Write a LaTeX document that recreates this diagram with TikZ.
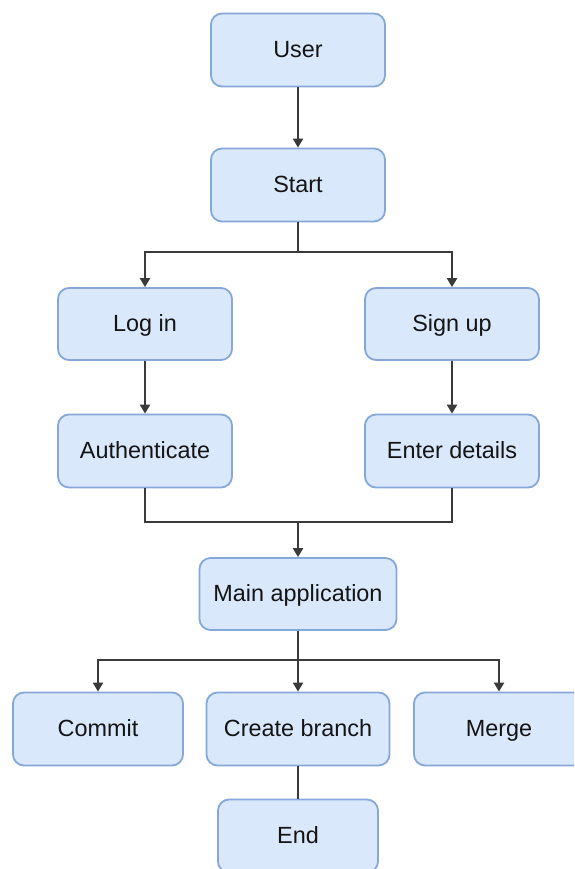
\documentclass[tikz,border=0pt]{standalone}
\usepackage{fontspec}
\setmainfont{Liberation Sans}
\usepackage{tikz}
\usetikzlibrary{calc,arrows.meta,shapes,positioning}

\definecolor{boxfill}{HTML}{DAE8FC}
\definecolor{boxline}{HTML}{86A8D8}
\definecolor{wire}{HTML}{3A3A3A}

\tikzset{
  stepbox/.style={draw=boxline,fill=boxfill,line width=1.8pt,rounded corners=11pt,
    minimum width=174pt,minimum height=73pt,text=black!92,
    text height=18pt,text depth=3pt,
    font=\fontsize{23.4}{27}\selectfont},
  link/.style={draw=wire,line width=2.4pt},
  arr/.style={link,-{Triangle[width=10pt,length=9pt]}}
}

\begin{document}
\begin{tikzpicture}[x=1pt,y=-1pt]
\clip (0,0) rectangle (574,869);
\fill[white] (0,0) rectangle (574,869);
\node[stepbox] (user) at (298,50) {User};
\node[stepbox] (start) at (298,185) {Start};
\node[stepbox,minimum height=72pt] (login) at (145,324) {Log in};
\node[stepbox,minimum height=72pt] (signup) at (452,324) {Sign up};
\node[stepbox] (auth) at (145,451) {Authenticate};
\node[stepbox] (details) at (452,451) {Enter details};
\node[stepbox,minimum width=197pt,minimum height=72pt] (mainapp) at (298,594) {Main application};
\node[stepbox,minimum width=170pt] (commit) at (98,729) {Commit};
\node[stepbox,minimum width=183pt] (branch) at (298,729) {Create branch};
\node[stepbox,minimum width=170pt] (merge) at (499,729) {Merge};
\node[stepbox,minimum width=160pt] (finish) at (298,836) {End};
\coordinate (split) at (298,252);
\coordinate (join) at (298,522);
\coordinate (fork) at (298,660);
\draw[arr] (user) -- (start);
\draw[link] (start) -- (split);
\draw[arr] (split) -| (login);
\draw[arr] (split) -| (signup);
\draw[arr] (login) -- (auth);
\draw[arr] (signup) -- (details);
\draw[link] (auth) |- (join) -| (details);
\draw[arr] (join) -- (mainapp);
\draw[link] (mainapp) -- (fork);
\foreach \n in {commit,branch,merge}
  \draw[arr] (fork) -| (\n);
\draw[link] (branch) -- (finish);
\end{tikzpicture}
\end{document}
